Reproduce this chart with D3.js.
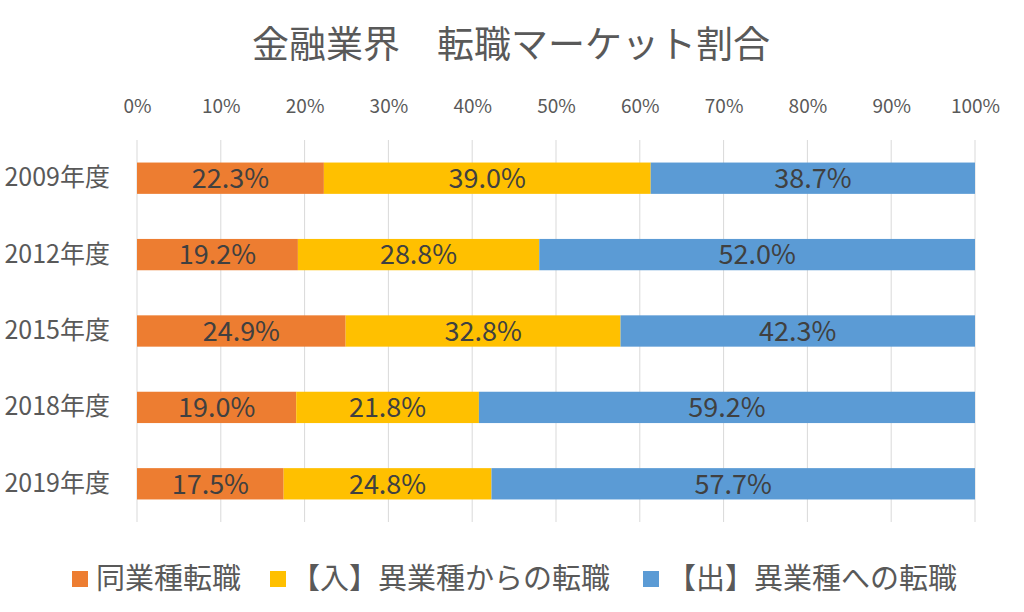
<!DOCTYPE html>
<html><head><meta charset="utf-8">
<script src="https://cdn.jsdelivr.net/npm/d3@7/dist/d3.min.js"></script>
<style>body{margin:0;background:#fff}</style>
</head><body>
<svg id="c" width="1024" height="612"></svg>
<script>
const categories = ["2009年度","2012年度","2015年度","2018年度","2019年度"];
const seriesNames = ["同業種転職","【入】異業種からの転職","【出】異業種への転職"];
const sameIndustry = [22.3,19.2,24.9,19.0,17.5];
const fromOther = [39.0,28.8,32.8,21.8,24.8];
const toOther = [38.7,52.0,42.3,59.2,57.7];
const colors = ["#ED7D31","#FFC000","#5B9BD5"];
const ticks = [0,10,20,30,40,50,60,70,80,90,100];

const font = "'Noto Sans CJK JP','Noto Sans',sans-serif";
const svg = d3.select("#c");
svg.append("rect").attr("width",1024).attr("height",612).attr("fill","#fff");

const x = d3.scaleLinear().domain([0,100]).range([137,975]);
const y = d3.scaleBand().domain(categories).range([140,522]).paddingInner(0.59).paddingOuter(0.295);

const rows = categories.map((c,i)=>({cat:c, vals:[sameIndustry[i],fromOther[i],toOther[i]]}));
const stacked = d3.stack().keys([0,1,2]).value((d,k)=>d.vals[k])(rows);

// gridlines
svg.append("g").selectAll("line").data(ticks).join("line")
  .attr("x1",d=>x(d)).attr("x2",d=>x(d)).attr("y1",140).attr("y2",522)
  .attr("stroke","#d9d9d9").attr("stroke-width",1);

// top axis
const ax = svg.append("g").attr("transform","translate(0,113)")
  .call(d3.axisTop(x).tickValues(ticks).tickFormat(d=>d+"%").tickSize(0).tickPadding(0));
ax.select(".domain").remove();
ax.selectAll("text").attr("font-family",font).attr("font-size",19).attr("fill","#595959");

// left axis
const ay = svg.append("g").attr("transform","translate(110,0)")
  .call(d3.axisLeft(y).tickSize(0).tickPadding(0));
ay.select(".domain").remove();
ay.selectAll("text").attr("font-family",font).attr("font-size",25).attr("fill","#595959");

// bars
const g = svg.append("g");
stacked.forEach((s,k)=>{
  g.append("g").selectAll("rect").data(s).join("rect")
    .attr("x",d=>x(d[0])).attr("width",d=>x(d[1])-x(d[0]))
    .attr("y",d=>y(d.data.cat)).attr("height",y.bandwidth())
    .attr("fill",colors[k]);
  g.append("g").selectAll("text").data(s).join("text")
    .attr("x",d=>(x(d[0])+x(d[1]))/2).attr("y",d=>y(d.data.cat)+y.bandwidth()/2)
    .attr("dy","0.36em").attr("text-anchor","middle")
    .attr("font-family",font).attr("font-size",27).attr("fill","#404040")
    .text(d=>d.data.vals[k].toFixed(1)+"%");
});

// title
svg.append("text").attr("x",511).attr("y",58).attr("text-anchor","middle")
  .attr("font-family",font).attr("font-size",37).attr("fill","#595959")
  .text("金融業界　転職マーケット割合");

// legend
const legX = [72,270,643];
const legTX = [96,291,667];
const lg = svg.append("g");
seriesNames.forEach((n,i)=>{
  lg.append("rect").attr("x",legX[i]).attr("y",571).attr("width",16).attr("height",16).attr("fill",colors[i]);
  lg.append("text").attr("x",legTX[i]).attr("y",579).attr("dy","0.36em")
    .attr("font-family",font).attr("font-size",29).attr("fill","#595959").text(n);
});
</script>
</body></html>
